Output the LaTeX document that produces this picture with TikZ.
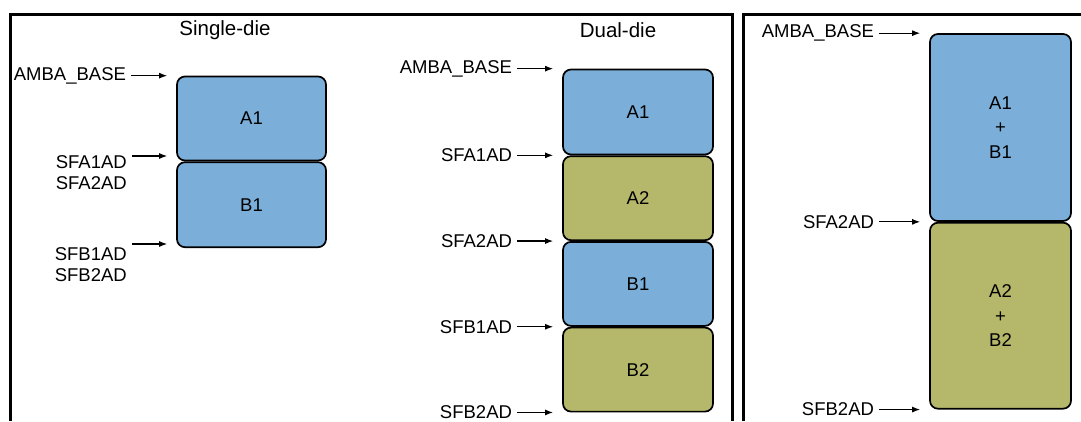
\documentclass[tikz,border=0pt]{standalone}
\usepackage{fontspec}
\setmainfont{Liberation Sans}
\usetikzlibrary{positioning,arrows.meta}
\definecolor{dieblue}{RGB}{123,175,217}
\definecolor{dieolive}{RGB}{181,184,107}

\begin{document}
\begin{tikzpicture}[x=1pt, y=-1pt, node distance=0pt,
    region/.style={rectangle, draw, line width=1.7pt, rounded corners=8pt, align=center, font=\fontsize{18.5}{24.5}\selectfont},
    addr/.style={font=\fontsize{18.5}{21}\selectfont, align=right, inner sep=3pt},
    title/.style={font=\fontsize{20.5}{24}\selectfont, anchor=base},
    ptr/.style={-{Latex[length=8pt,width=6pt]}, line width=1.2pt, shorten <=2pt, shorten >=9pt}]
    \useasboundingbox (0,0) rectangle (1081,421);
    % frames
    \draw [line width=3pt] (10,421) |- (732,14) -- (732,421);
    \draw [line width=3pt] (743.5,421) |- (1081,14);

    % single-die
    \node (sTitle) [title] at (225,35) {Single-die};
    \node (sA1) [region, fill=dieblue, minimum width=149pt, minimum height=84pt] at (251.5,118.5) {A1};
    \node (sB1) [region, fill=dieblue, minimum width=149pt, minimum height=85pt, below=of sA1] {B1};
    \node (sAmba) [addr, left=47pt of sA1.north west] {AMBA\_BASE};
    \node (sSFA) [addr, anchor=east] at (130,172.5) {SFA1AD\\SFA2AD};
    \node (sSFB) [addr, anchor=east] at (130,264.5) {SFB1AD\\SFB2AD};
    \coordinate (sSFAin) at (130,156);
    \coordinate (sSFBin) at (130,244);
    \draw [ptr] (sAmba.east) -- (sAmba.east -| sA1.west);
    \draw [ptr] (sSFAin) -- (sSFAin -| sA1.west);
    \draw [ptr] (sSFBin) -- (sSFBin -| sB1.west);

    % dual-die
    \node (dTitle) [title] at (618,37) {Dual-die};
    \node (dA1) [region, fill=dieblue, minimum width=150pt, minimum height=85pt] at (638,112) {A1};
    \node (dA2) [region, fill=dieolive, minimum width=150pt, minimum height=84pt, below=of dA1] {A2};
    \node (dB1) [region, fill=dieblue, minimum width=150pt, minimum height=84pt, below=of dA2] {B1};
    \node (dB2) [region, fill=dieolive, minimum width=150pt, minimum height=84pt, below=of dB1] {B2};
    \node (dAmba) [addr, left=47pt of dA1.north west] {AMBA\_BASE};
    \node (dSFA1) [addr, left=47pt of dA1.south west] {SFA1AD};
    \node (dSFA2) [addr, left=47pt of dA2.south west] {SFA2AD};
    \node (dSFB1) [addr, left=47pt of dB1.south west] {SFB1AD};
    \node (dSFB2) [addr, left=47pt of dB2.south west] {SFB2AD};
    \draw [ptr] (dAmba.east) -- (dAmba.east -| dA1.west);
    \draw [ptr] (dSFA1.east) -- (dSFA1.east -| dA1.west);
    \draw [ptr] (dSFA2.east) -- (dSFA2.east -| dA2.west);
    \draw [ptr] (dSFB1.east) -- (dSFB1.east -| dB1.west);
    \draw [ptr] (dSFB2.east) -- (dSFB2.east -| dB2.west);

    % combined
    \node (cA) [region, fill=dieblue, minimum width=141pt, minimum height=187pt] at (1000.5,127.5) {A1\\+\\B1};
    \node (cB) [region, fill=dieolive, minimum width=141pt, minimum height=186pt, below=of cA] {A2\\+\\B2};
    \node (cAmba) [addr, left=52pt of cA.north west] {AMBA\_BASE};
    \node (cSFA2) [addr, left=52pt of cA.south west] {SFA2AD};
    \node (cSFB2) [addr, left=52pt of cB.south west] {SFB2AD};
    \draw [ptr] (cAmba.east) -- (cAmba.east -| cA.west);
    \draw [ptr] (cSFA2.east) -- (cSFA2.east -| cA.west);
    \draw [ptr] (cSFB2.east) -- (cSFB2.east -| cB.west);
\end{tikzpicture}
\end{document}
